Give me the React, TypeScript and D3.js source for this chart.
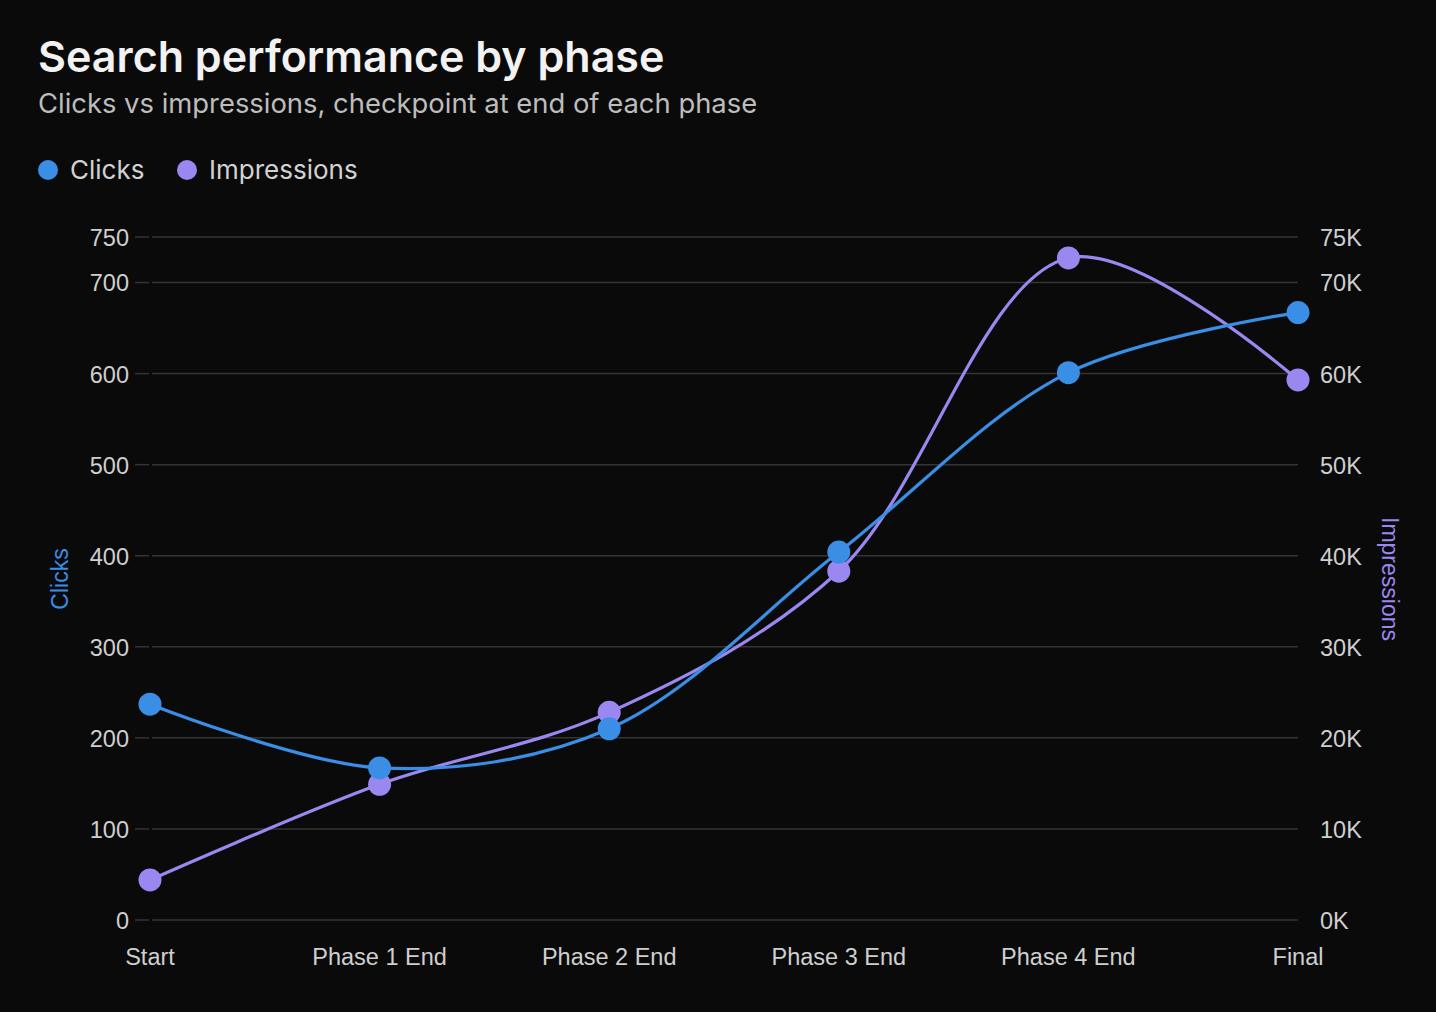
import React, { useEffect, useRef } from 'react';
import * as d3 from 'd3';

const phases = ['Start', 'Phase 1 End', 'Phase 2 End', 'Phase 3 End', 'Phase 4 End', 'Final'];
const clicks = [237, 167, 210, 404, 601, 667];
const impressions = [4400, 14900, 22800, 38300, 72700, 59300];
const clickTicks = [0, 100, 200, 300, 400, 500, 600, 700, 750];
const impressionTicks = [0, 10000, 20000, 30000, 40000, 50000, 60000, 70000, 75000];

const WIDTH = 1436;
const HEIGHT = 1012;
const BLUE = '#3a8ee6';
const PURPLE = '#9b87f0';
const TICK_FONT = '"Liberation Sans", Arial, sans-serif';
const HEAD_FONT = 'Inter, "Noto Sans", sans-serif';

export default function App() {
  const svgRef = useRef<SVGSVGElement>(null);

  useEffect(() => {
    if (!svgRef.current) return;
    const svg = d3.select(svgRef.current);
    svg.selectAll('*').remove();

    const x = d3.scalePoint<string>().domain(phases).range([150, 1298]);
    const yLeft = d3.scaleLinear().domain([0, 750]).range([920, 237]);
    const yRight = d3.scaleLinear().domain([0, 75000]).range([920, 237]);

    svg.append('rect').attr('width', WIDTH).attr('height', HEIGHT).attr('fill', '#0a0a0a');

    // Title block
    svg.append('text')
      .attr('x', 38).attr('y', 72)
      .style('font-family', HEAD_FONT)
      .style('font-size', '43px')
      .style('font-weight', 600)
      .style('fill', '#f2f2f2')
      .text('Search performance by phase');

    svg.append('text')
      .attr('x', 38).attr('y', 113)
      .style('font-family', HEAD_FONT)
      .style('font-size', '27.4px')
      .style('fill', '#bdbdbd')
      .text('Clicks vs impressions, checkpoint at end of each phase');

    // Legend
    const legend = [
      { label: 'Clicks', color: BLUE, x: 48 },
      { label: 'Impressions', color: PURPLE, x: 187 },
    ];
    const lg = svg.append('g');
    legend.forEach(l => {
      lg.append('circle').attr('cx', l.x).attr('cy', 170).attr('r', 10).attr('fill', l.color);
      lg.append('text')
        .attr('x', l.x + 22).attr('y', 179)
        .style('font-family', HEAD_FONT)
        .style('font-size', '26px')
        .style('fill', '#d2d2d2')
        .text(l.label);
    });

    // Grid
    const grid = svg.append('g');
    clickTicks.forEach(t => {
      const y = yLeft(t);
      grid.append('line')
        .attr('x1', 135).attr('x2', 149).attr('y1', y).attr('y2', y)
        .attr('stroke', '#343434').attr('stroke-width', 1.5);
      grid.append('line')
        .attr('x1', 152).attr('x2', 1298).attr('y1', y).attr('y2', y)
        .attr('stroke', '#343434').attr('stroke-width', 1.5);
    });

    const tickStyle = (sel: d3.Selection<SVGTextElement, any, any, any>) =>
      sel.attr('dy', '0.36em')
        .style('font-family', TICK_FONT)
        .style('font-size', '23.5px')
        .style('fill', '#cfcfcf');

    // Left axis labels
    svg.append('g').selectAll('text')
      .data(clickTicks)
      .enter().append('text')
      .attr('x', 129)
      .attr('y', d => yLeft(d) + 0.5)
      .attr('text-anchor', 'end')
      .call(tickStyle)
      .text(d => d3.format('d')(d));

    // Right axis labels
    svg.append('g').selectAll('text')
      .data(impressionTicks)
      .enter().append('text')
      .attr('x', 1320)
      .attr('y', d => yRight(d) + 0.5)
      .attr('text-anchor', 'start')
      .call(tickStyle)
      .text(d => `${d / 1000}K`);

    // X labels
    svg.append('g').selectAll('text')
      .data(phases)
      .enter().append('text')
      .attr('x', d => x(d) as number)
      .attr('y', 957)
      .attr('text-anchor', 'middle')
      .call(tickStyle)
      .text(d => d);

    // Axis titles
    svg.append('text')
      .attr('transform', `translate(60, 579) rotate(-90)`)
      .attr('dy', '0.36em')
      .attr('text-anchor', 'middle')
      .style('font-family', TICK_FONT)
      .style('font-size', '23px')
      .style('fill', BLUE)
      .text('Clicks');

    svg.append('text')
      .attr('transform', `translate(1390, 579) rotate(90)`)
      .attr('dy', '0.36em')
      .attr('text-anchor', 'middle')
      .style('font-family', TICK_FONT)
      .style('font-size', '23px')
      .style('fill', PURPLE)
      .text('Impressions');

    // Series: impressions first so clicks sit on top
    const series = [
      { values: impressions, y: yRight, color: PURPLE },
      { values: clicks, y: yLeft, color: BLUE },
    ];

    series.forEach(s => {
      const line = d3.line<number>()
        .x((_, i) => x(phases[i]) as number)
        .y(d => s.y(d))
        .curve(d3.curveCatmullRom.alpha(0.5));

      svg.append('path')
        .datum(s.values)
        .attr('d', line)
        .attr('fill', 'none')
        .attr('stroke', s.color)
        .attr('stroke-width', 3.2);

      svg.append('g').selectAll('circle')
        .data(s.values)
        .enter().append('circle')
        .attr('cx', (_, i) => x(phases[i]) as number)
        .attr('cy', d => s.y(d))
        .attr('r', 11.5)
        .attr('fill', s.color);
    });
  }, []);

  return (
    <div style={{ position: 'absolute', left: 0, top: 0 }}>
      <svg ref={svgRef} width={WIDTH} height={HEIGHT} viewBox={`0 0 ${WIDTH} ${HEIGHT}`} style={{ display: 'block' }} />
    </div>
  );
}
